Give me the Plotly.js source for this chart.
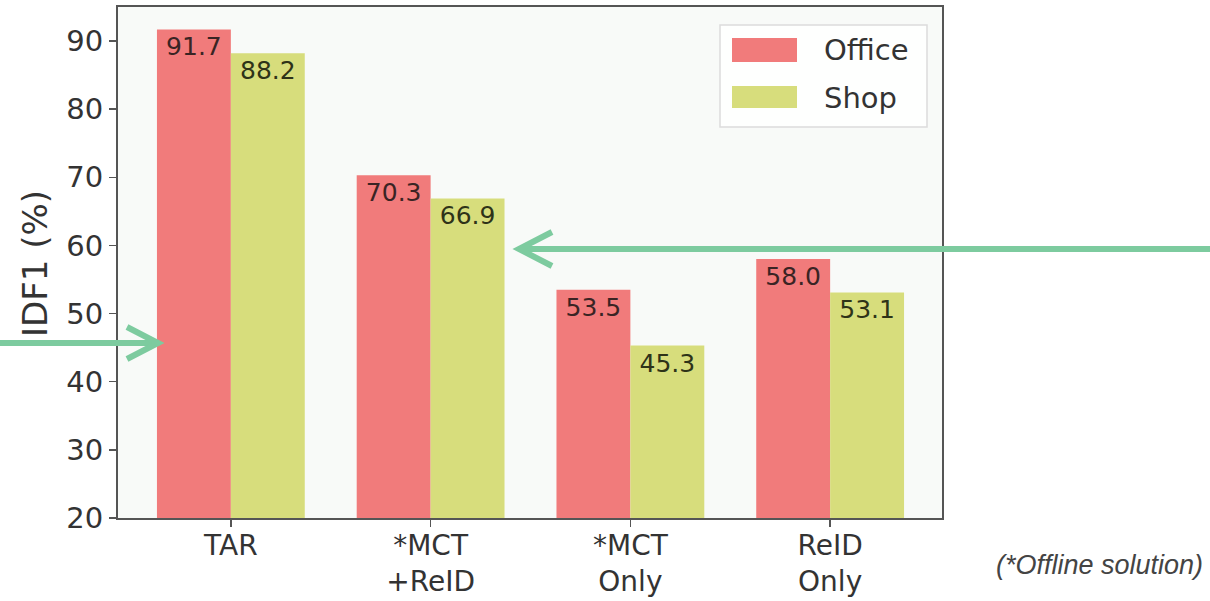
<!DOCTYPE html>
<html>
<head>
<meta charset="utf-8">
<script src="https://cdn.plot.ly/plotly-3.0.1.min.js"></script>
<style>html,body{margin:0;padding:0;background:#fff;}#chart{width:1210px;height:601px;}</style>
</head>
<body>
<div id="chart"></div>
<script>
// ---- data ----
const categories = ['TAR', '*MCT<br>+ReID', '*MCT<br>Only', 'ReID<br>Only'];
const officeValues = [91.7, 70.3, 53.5, 58.0];
const shopValues = [88.2, 66.9, 45.3, 53.1];
const seriesNames = ['Office', 'Shop'];
const yTickVals = [20, 30, 40, 50, 60, 70, 80, 90];
const yTitle = 'IDF1 (%)';
const footnote = '(*Offline solution)';

// ---- style ----
const W = 1210, H = 601;
const L = 118, R = 942, T = 7, B = 518;
const officeColor = '#F17B7B';
const shopColor = '#D7DD7C';
const arrowColor = '#7DCB9F';
const font = 'DejaVu Sans, sans-serif';

const px = x => (x - L) / (R - L);
const py = y => (B - y) / (B - T);

const traces = [
  {
    type: 'bar', name: seriesNames[0], x: categories, y: officeValues,
    marker: {color: officeColor},
    text: officeValues.map(v => v.toFixed(1)),
    textposition: 'inside', insidetextanchor: 'end', textangle: 0,
    constraintext: 'none',
    textfont: {family: font, size: 25, color: '#3a2424'},
    hoverinfo: 'none'
  },
  {
    type: 'bar', name: seriesNames[1], x: categories, y: shopValues,
    marker: {color: shopColor},
    text: shopValues.map(v => v.toFixed(1)),
    textposition: 'inside', insidetextanchor: 'end', textangle: 0,
    constraintext: 'none',
    textfont: {family: font, size: 25, color: '#2e3318'},
    hoverinfo: 'none'
  }
];

function seg(x0, y0, x1, y1, w) {
  return {type: 'line', xref: 'paper', yref: 'paper', x0: px(x0), y0: py(y0), x1: px(x1), y1: py(y1),
          line: {color: arrowColor, width: w || 6}, layer: 'above'};
}
function path(points, w) {
  const d = points.map((p, i) => (i ? 'L' : 'M') + px(p[0]) + ',' + py(p[1])).join(' ');
  return {type: 'path', xref: 'paper', yref: 'paper', path: d,
          line: {color: arrowColor, width: w || 6}, layer: 'above'};
}

const shapes = [
  // legend box
  {type: 'rect', xref: 'paper', yref: 'paper', x0: px(720), y0: py(25), x1: px(927), y1: py(127),
   line: {color: '#dcdcdc', width: 1.5}, fillcolor: 'rgba(255,255,255,0.85)', layer: 'above'},
  {type: 'rect', xref: 'paper', yref: 'paper', x0: px(732), y0: py(38), x1: px(797), y1: py(62),
   line: {width: 0}, fillcolor: officeColor, layer: 'above'},
  {type: 'rect', xref: 'paper', yref: 'paper', x0: px(732), y0: py(86), x1: px(797), y1: py(108),
   line: {width: 0}, fillcolor: shopColor, layer: 'above'},
  // arrows
  seg(1212, 249, 522, 249),
  path([[552, 232], [519, 249], [552, 266]]),
  seg(-2, 343, 154, 343),
  path([[127, 327], [158, 343], [127, 359]])
];

const annotations = [
  {xref: 'paper', yref: 'paper', x: px(822), y: py(50), xanchor: 'left', yanchor: 'middle',
   text: seriesNames[0], showarrow: false, font: {family: font, size: 29, color: '#333'}},
  {xref: 'paper', yref: 'paper', x: px(822), y: py(98), xanchor: 'left', yanchor: 'middle',
   text: seriesNames[1], showarrow: false, font: {family: font, size: 29, color: '#333'}},
  {xref: 'paper', yref: 'paper', x: px(35), y: py(264), xanchor: 'center', yanchor: 'middle',
   text: yTitle, textangle: -90, showarrow: false, font: {family: font, size: 34, color: '#333'}},
  {xref: 'paper', yref: 'paper', x: px(1205), y: py(565), xanchor: 'right', yanchor: 'middle',
   text: '<i>' + footnote + '</i>', showarrow: false,
   font: {family: 'Liberation Sans, Arial, sans-serif', size: 27, color: '#444'}}
];

const layout = {
  width: W, height: H,
  margin: {l: L, r: W - R, t: T, b: H - B, pad: 0},
  paper_bgcolor: '#ffffff',
  plot_bgcolor: '#F8FAF8',
  showlegend: false,
  barmode: 'group',
  bargap: 0.26,
  bargroupgap: 0,
  font: {family: font, size: 29, color: '#333'},
  xaxis: {
    type: 'category', range: [-0.565, 3.56],
    showline: true, mirror: true, linecolor: '#555', linewidth: 2,
    ticks: 'outside', ticklen: 7, tickwidth: 1.5, tickcolor: '#555',
    ticklabelstandoff: -6,
    showgrid: false, zeroline: false,
    tickfont: {family: font, size: 28, color: '#333'}
  },
  yaxis: {
    range: [20, 95], tickvals: yTickVals,
    showline: true, mirror: true, linecolor: '#555', linewidth: 2,
    ticks: 'outside', ticklen: 7, tickwidth: 1.5, tickcolor: '#555',
    showgrid: false, zeroline: false,
    tickfont: {family: font, size: 29, color: '#333'}
  },
  shapes: shapes,
  annotations: annotations
};

Plotly.newPlot('chart', traces, layout, {displayModeBar: false, staticPlot: true});
</script>
</body>
</html>
